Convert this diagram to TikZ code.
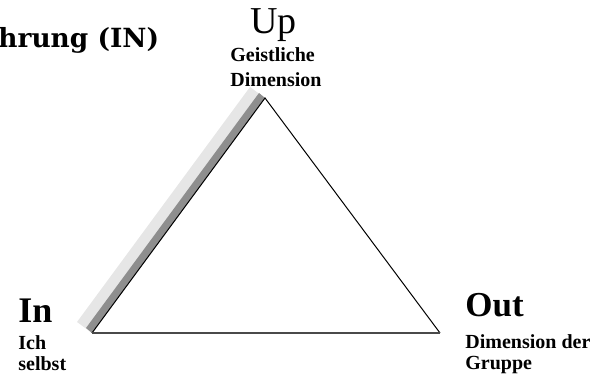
\documentclass[tikz,border=0pt]{standalone}
\usepackage{fontspec}
\setmainfont{Liberation Serif}
\newfontfamily\slabfont{DejaVu Serif}
\usetikzlibrary{positioning}
\definecolor{shadedark}{HTML}{8E8E8E}
\definecolor{shadelight}{HTML}{E6E6E6}
\definecolor{basegray}{HTML}{4A4A4A}

\begin{document}
\begin{tikzpicture}[x=0.5pt, y=-0.5pt,
  pole/.style={inner sep=0pt, font=\fontsize{19}{19}\selectfont},
  note/.style={inner sep=0pt, align=left, font=\bfseries\fontsize{10}{10.5}\selectfont},
  side/.style={draw=black, line width=0.5pt}]
  \useasboundingbox (0,0) rectangle (604,378);
  \coordinate (top) at (265,98);
  \coordinate (left) at (92,333);
  \coordinate (right) at (440,333);
  % shadow along the left side
  \fill[shadelight] (left) -- (top) -- ([shift={(-15,-11)}]top) -- ([shift={(-15,-11)}]left) -- cycle;
  \fill[shadedark] (left) -- (top) -- ([shift={(-6,-5)}]top) -- ([shift={(-6,-5)}]left) -- cycle;
  \draw[side] (left) -- (top) -- (right);
  \draw[basegray, line width=1pt] (left) -- (right);
  % labels
  \node[anchor=base west, inner sep=0pt, font=\slabfont\bfseries\fontsize{13.2}{14}\selectfont] (title) at (-2,48) {hrung (IN)};
  \node[pole, anchor=base west] (up) at (250,34) {Up};
  \node[note, font=\bfseries\fontsize{10}{12.5}\selectfont, below right=2.5pt and -10pt of up.south west] (upnote) {Geistliche\\Dimension};
  \node[pole, font=\bfseries\fontsize{18}{18}\selectfont, anchor=base west] (in) at (18,323) {In};
  \node[note, below right=6pt and 0pt of in.south west] (innote) {Ich\\selbst};
  \node[pole, font=\bfseries\fontsize{17.5}{17.5}\selectfont, anchor=base west] (out) at (465,317) {Out};
  \node[note, below right=8pt and 0pt of out.south west] (outnote) {Dimension der\\Gruppe};
\end{tikzpicture}
\end{document}
